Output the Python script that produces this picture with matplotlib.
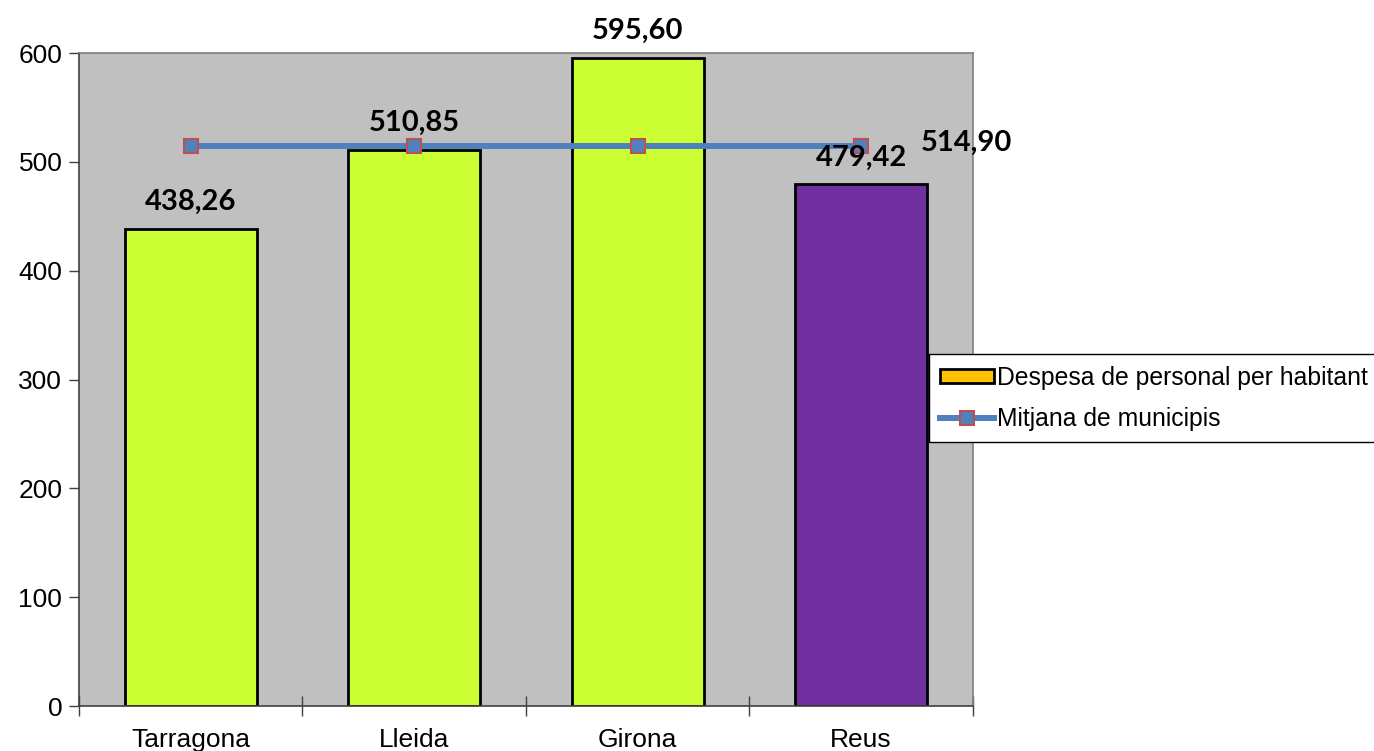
import matplotlib.pyplot as plt
from matplotlib.patches import Patch
from matplotlib.lines import Line2D

# dades
ciutats = ["Tarragona", "Lleida", "Girona", "Reus"]
despesa = [438.26, 510.85, 595.60, 479.42]
mitjana = [514.90, 514.90, 514.90, 514.90]
colors_barres = ["#CCFF33", "#CCFF33", "#CCFF33", "#7030A0"]


def fmt(v):
    return f"{v:.2f}".replace(".", ",")


def main():
    plt.rcParams["font.family"] = ["Liberation Sans", "DejaVu Sans"]
    fig = plt.figure(figsize=(13.74, 7.51), dpi=100)
    ax = fig.add_axes([0.0575, 0.0599, 0.6505, 0.8695])
    ax.set_facecolor("#C0C0C0")

    x = list(range(len(ciutats)))
    ax.bar(x, despesa, width=0.59, color=colors_barres, edgecolor="black",
           linewidth=2, zorder=2)

    ax.plot(x, mitjana, color="#4F81BD", linewidth=4.3, marker="s",
            markersize=10, markerfacecolor="#4F81BD", markeredgecolor="#C0504D",
            markeredgewidth=1.5, zorder=3)

    # etiquetes de valors
    for xi, v in zip(x, despesa):
        ax.annotate(fmt(v), (xi, v), xytext=(0, 10), textcoords="offset points",
                    ha="center", va="bottom", fontsize=21, fontweight="bold",
                    family=["Lato", "DejaVu Sans"])
    ax.annotate(fmt(mitjana[-1]), (x[-1], mitjana[-1]), xytext=(76, 2),
                textcoords="offset points", ha="center", va="center",
                fontsize=21, fontweight="bold", family=["Lato", "DejaVu Sans"])

    ax.set_xlim(-0.5, 3.5)
    ax.set_ylim(0, 600)
    ax.set_yticks([0, 100, 200, 300, 400, 500, 600])
    ax.set_xticks(x)
    ax.set_xticklabels(ciutats)
    ax.set_xticks([-0.5, 0.5, 1.5, 2.5, 3.5], minor=True)
    ax.tick_params(axis="x", which="major", length=0, pad=16, labelsize=19)
    ax.tick_params(axis="x", which="minor", direction="inout", length=15,
                   width=1, color="#404040")
    ax.tick_params(axis="y", direction="out", length=7, width=1,
                   color="#404040", labelsize=19, pad=5)

    for s in ["left", "bottom"]:
        ax.spines[s].set_color("#404040")
        ax.spines[s].set_linewidth(1.2)
    for s in ["top", "right"]:
        ax.spines[s].set_color("#808080")
        ax.spines[s].set_linewidth(1.2)

    handles = [
        Patch(facecolor="#FFC000", edgecolor="black", linewidth=2),
        Line2D([0], [0], color="#4F81BD", linewidth=4.3, marker="s",
               markersize=10, markerfacecolor="#4F81BD",
               markeredgecolor="#C0504D", markeredgewidth=1.5),
    ]
    leg = fig.legend(handles, ["Despesa de personal per habitant",
                               "Mitjana de municipis"],
                     loc="upper left", bbox_to_anchor=(0.676, 0.528),
                     fontsize=17.8, frameon=True, fancybox=False,
                     edgecolor="black", framealpha=1, borderpad=0.45,
                     handlelength=2.2, handleheight=0.5, handletextpad=0.1,
                     labelspacing=0.7, borderaxespad=0)
    leg.get_frame().set_linewidth(1)

    fig.savefig("out.png", dpi=100)


if __name__ == "__main__":
    main()
